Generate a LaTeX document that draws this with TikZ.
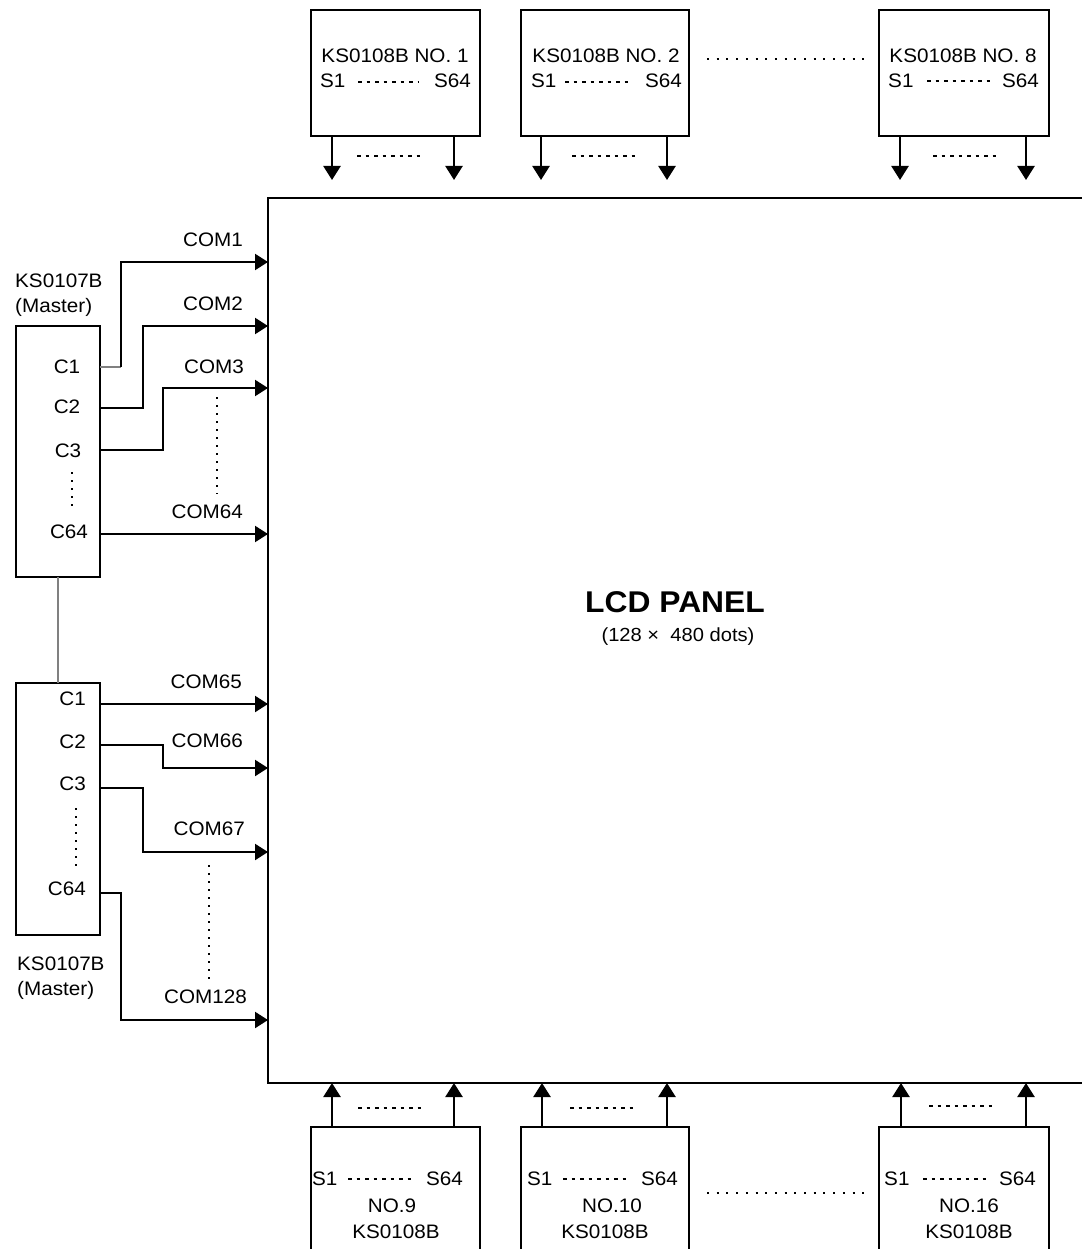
\documentclass[tikz,border=0pt]{standalone}
\usepackage{fontspec}
\setmainfont[FakeStretch=1.06]{Liberation Sans}
\usetikzlibrary{arrows.meta}
\begin{document}
\begin{tikzpicture}[x=1pt,y=-1pt,
  chip/.style={draw,line width=2.4pt,inner sep=0,outer sep=0,anchor=north west},
  wire/.style={line width=2.2pt,-{Triangle[length=13pt,width=16pt]}},
  sarrow/.style={line width=2.4pt,-{Triangle[length=14pt,width=17pt]}},
  thinw/.style={gray,line width=1.1pt},
  lbl/.style={inner sep=0,font=\fontsize{19.5}{21}\selectfont},
  dashline/.style={line width=1.3pt,dash pattern=on 3.5pt off 5pt},
  vdots/.style={line width=1.8pt,dash pattern=on 2pt off 6pt},
  hdots/.style={line width=1.8pt,dash pattern=on 2pt off 7.7pt}]
\useasboundingbox (0,0) rectangle (1081,1249);
% LCD panel
\node[chip,minimum width=840pt,minimum height=885pt] (panel) at (268,198) {};
\node[inner sep=0,anchor=base,font=\fontsize{30}{32}\selectfont\bfseries] (title) at (675,612) {LCD PANEL};
\node[inner sep=0,anchor=base,font=\fontsize{19}{21}\selectfont] (sub) at (678,641) {(128 × \ 480 dots)};

% top chips
\node[chip,minimum width=169pt,minimum height=126pt] (t1) at (311,10) {};
\node[chip,minimum width=168pt,minimum height=126pt] (t2) at (521,10) {};
\node[chip,minimum width=170pt,minimum height=126pt] (t8) at (879,10) {};
\node[lbl,anchor=base] (t1n) at (395,63) {KS0108B NO. 1};
\node[lbl,anchor=base] (t2n) at (606,63) {KS0108B NO. 2};
\node[lbl,anchor=base] (t8n) at (963,63) {KS0108B NO. 8};
\node[lbl,anchor=base west] (t1a) at (320,88) {S1};
\node[lbl,anchor=base east] (t1b) at (471,88) {S64};
\node[lbl,anchor=base west] (t2a) at (531,88) {S1};
\node[lbl,anchor=base east] (t2b) at (682,88) {S64};
\node[lbl,anchor=base west] (t8a) at (888,88) {S1};
\node[lbl,anchor=base east] (t8b) at (1039,88) {S64};
\draw[dashline] (358,82) -- (418,82);
\draw[dashline] (565,82) -- (629,82);
\draw[dashline] (927,81) -- (993,81);
\draw[hdots] (707,59) -- (864,59);
% top arrows
\draw[sarrow] ([xshift=21pt]t1.south west) -- ++(0,44);
\draw[sarrow] ([xshift=-26pt]t1.south east) -- ++(0,44);
\draw[sarrow] ([xshift=20pt]t2.south west) -- ++(0,44);
\draw[sarrow] ([xshift=-22pt]t2.south east) -- ++(0,44);
\draw[sarrow] ([xshift=21pt]t8.south west) -- ++(0,44);
\draw[sarrow] ([xshift=-23pt]t8.south east) -- ++(0,44);
\draw[dashline] (357,156) -- (421,156);
\draw[dashline] (572,156) -- (636,156);
\draw[dashline] (933,156) -- (999,156);

% bottom chips
\node[chip,minimum width=169pt,minimum height=150pt] (b9) at (311,1127) {};
\node[chip,minimum width=168pt,minimum height=150pt] (b10) at (521,1127) {};
\node[chip,minimum width=170pt,minimum height=150pt] (b16) at (879,1127) {};
\node[lbl,anchor=base west] (b9a) at (312,1185) {S1};
\node[lbl,anchor=base east] (b9b) at (463,1185) {S64};
\node[lbl,anchor=base] (b9n) at (392,1212) {NO.9};
\node[lbl,anchor=base] (b9k) at (396,1238) {KS0108B};
\node[lbl,anchor=base west] (b10a) at (527,1185) {S1};
\node[lbl,anchor=base east] (b10b) at (678,1185) {S64};
\node[lbl,anchor=base] (b10n) at (612,1212) {NO.10};
\node[lbl,anchor=base] (b10k) at (605,1238) {KS0108B};
\node[lbl,anchor=base west] (b16a) at (884,1185) {S1};
\node[lbl,anchor=base east] (b16b) at (1036,1185) {S64};
\node[lbl,anchor=base] (b16n) at (969,1212) {NO.16};
\node[lbl,anchor=base] (b16k) at (969,1238) {KS0108B};
\draw[dashline] (348,1179) -- (411,1179);
\draw[dashline] (563,1179) -- (626,1179);
\draw[dashline] (923,1179) -- (988,1179);
\draw[hdots] (707,1193) -- (864,1193);
% bottom arrows
\draw[sarrow] ([xshift=21pt]b9.north west) -- ++(0,-44);
\draw[sarrow] ([xshift=-26pt]b9.north east) -- ++(0,-44);
\draw[sarrow] ([xshift=21pt]b10.north west) -- ++(0,-44);
\draw[sarrow] ([xshift=-22pt]b10.north east) -- ++(0,-44);
\draw[sarrow] ([xshift=22pt]b16.north west) -- ++(0,-44);
\draw[sarrow] ([xshift=-23pt]b16.north east) -- ++(0,-44);
\draw[dashline] (358,1108) -- (424,1108);
\draw[dashline] (570,1108) -- (636,1108);
\draw[dashline] (929,1106) -- (994,1106);

% left master chips
\node[chip,minimum width=84pt,minimum height=251pt] (m1) at (16,326) {};
\node[chip,minimum width=84pt,minimum height=252pt] (m2) at (16,683) {};
\draw[thinw] (m1.south) -- (m2.north);
\node[lbl,anchor=base west] (m1k) at (15,287) {KS0107B};
\node[lbl,anchor=base west] (m1m) at (15,312) {(Master)};
\node[lbl,anchor=base west] (m2k) at (17,970) {KS0107B};
\node[lbl,anchor=base west] (m2m) at (17,995) {(Master)};
\node[lbl,anchor=base] (m1c1l) at (67,373) {C1};
\node[lbl,anchor=base] (m1c2l) at (67,413) {C2};
\node[lbl,anchor=base] (m1c3l) at (68,457) {C3};
\node[lbl,anchor=base] (m1c64l) at (69,538) {C64};
\draw[vdots] (72,472) -- (72,506);
\node[lbl,anchor=base east] (m2c1l) at (86,705) {C1};
\node[lbl,anchor=base east] (m2c2l) at (86,748) {C2};
\node[lbl,anchor=base east] (m2c3l) at (86,790) {C3};
\node[lbl,anchor=base east] (m2c64l) at (86,895) {C64};
\draw[vdots] (76,808) -- (76,871);

% pin and panel coordinates
\coordinate (a1) at (100,367);
\coordinate (a2) at (100,408);
\coordinate (a3) at (100,450);
\coordinate (a64) at (100,534);
\coordinate (p1) at (268,262);
\coordinate (p2) at (268,326);
\coordinate (p3) at (268,388);
\coordinate (c1) at (100,704);
\coordinate (c2) at (100,745);
\coordinate (c3) at (100,788);
\coordinate (c64) at (100,893);
\coordinate (q66) at (268,768);
\coordinate (q67) at (268,852);
\coordinate (q128) at (268,1020);

\draw[thinw] (a1) -- ++(21,0) coordinate (k1);
\draw[wire] (k1) |- (p1);
\draw[wire] (a2) -- ++(43,0) |- (p2);
\draw[wire] (a3) -- ++(63,0) |- (p3);
\draw[wire] (a64) -- (panel.west |- a64);
\draw[wire] (c1) -- (panel.west |- c1);
\draw[wire] (c2) -- ++(63,0) |- (q66);
\draw[wire] (c3) -- ++(43,0) |- (q67);
\draw[wire] (c64) -- ++(21,0) |- (q128);

\node[lbl,anchor=base east] (com1) at (243,247) {COM1};
\node[lbl,anchor=base east] (com2) at (243,310) {COM2};
\node[lbl,anchor=base east] (com3) at (244,373) {COM3};
\node[lbl,anchor=base east] (com64) at (243,518) {COM64};
\draw[vdots] (217,397) -- (217,494);
\node[lbl,anchor=base east] (com65) at (242,688) {COM65};
\node[lbl,anchor=base east] (com66) at (243,747) {COM66};
\node[lbl,anchor=base east] (com67) at (245,835) {COM67};
\node[lbl,anchor=base east] (com128) at (247,1003) {COM128};
\draw[vdots] (209,865) -- (209,979);
\end{tikzpicture}
\end{document}
